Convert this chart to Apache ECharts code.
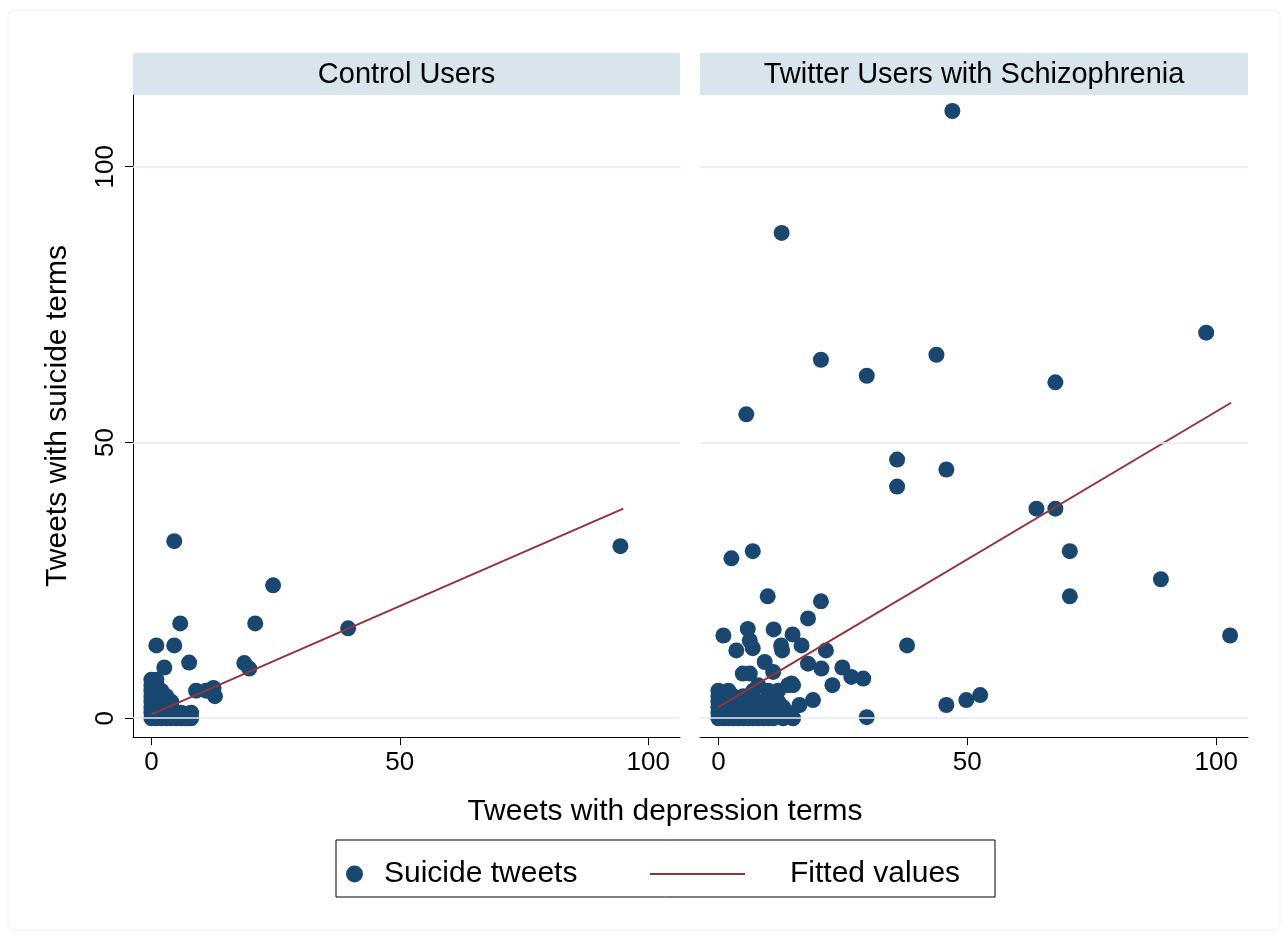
<!DOCTYPE html>
<html><head><meta charset="utf-8">
<script src="https://cdn.jsdelivr.net/npm/echarts@6/dist/echarts.min.js"></script>
<style>html,body{margin:0;padding:0;background:#fff}#c{width:1288px;height:938px}</style>
</head><body><div id="c"></div>
<script>
const panelTitles = ['Control Users', 'Twitter Users with Schizophrenia'];
const xTicks = [0, 50, 100];
const yTicks = [0, 50, 100];
const xTitle = 'Tweets with depression terms';
const yTitle = 'Tweets with suicide terms';
const legendNames = ['Suicide tweets', 'Fitted values'];

// Control users: [depression tweets, suicide tweets]
const controlPoints = [
  [4.6,32.1],[94.4,31.2],[24.5,24.1],[20.9,17.2],[39.6,16.3],[5.8,17.2],[1,13.2],[4.6,13.2],
  [18.7,10],[19.7,9],[7.6,10.1],[2.6,9.2],[9,5],[11,5],[12.5,5.5],[12.8,4],[7.4,0.8],[7.4,0],
  [0,0],[0,1],[0,2],[0,3],[0,4],[0,5],[0,6],[0,7],[1,0],[1,1],[1,2],[1,3],[1,4],[1,5],[1,6],[1,7],
  [2,0],[2,1],[2,2],[2,3],[2,4],[2,5],[3,0],[3,1],[3,2],[3,3],[3,4],[4,0],[4,1],[4,2],[4,3],
  [5,0],[5,1],[6,0],[6,1],[7,0],[8,0],[8,1]
];
// Users with schizophrenia
const schizPoints = [
  [47,110.1],[12.7,88],[98,69.9],[43.8,65.9],[20.6,65],[29.8,62.1],[67.7,60.9],[5.6,55.1],
  [35.9,46.9],[45.8,45.1],[35.9,42],[63.9,38],[67.7,38],[70.6,30.3],[6.9,30.3],[2.6,29],
  [88.9,25.2],[70.6,22.1],[9.9,22.1],[20.6,21.2],[102.8,15],[37.9,13.2],[45.8,2.4],[49.8,3.3],
  [52.6,4.2],[29.8,0.2],
  [18,18.1],[1,15],[5.9,16.2],[11.1,16.1],[14.9,15.2],[6.3,14.1],[6.9,12.7],[3.6,12.3],
  [12.6,13.2],[12.8,12.3],[16.7,13.2],[21.6,12.3],[9.3,10.2],[18,9.9],[20.7,9],[24.9,9.2],
  [26.7,7.5],[29.1,7.2],[4.9,8.1],[6.3,8.1],[11,8.4],[22.9,6],[19,3.3],[16.3,2.4],[14.3,0.2],
  [8.9,0.2],[14.7,6.3],
  [0,0],[0,1],[0,2],[0,3],[0,4],[0,5],[1,0],[1,1],[1,2],[1,3],[1,4],[2,0],[2,1],[2,2],[2,3],[2,5],
  [3,0],[3,1],[3,2],[3,3],[3,4],[4,0],[4,1],[4,2],[4,3],[5,0],[5,1],[5,2],[5,4],[6,0],[6,1],[6,2],
  [6,3],[7,0],[7,1],[7,2],[7,5],[8,0],[8,1],[8,3],[9,0],[9,1],[9,2],[10,0],[10,1],[10,3],[11,0],
  [11,1],[11,2],[12,1],[12,3],[13,0],[13,2],[14,1],[14,6],[15,0],[15,6],[10,5],[12,5],[8,6]
];
// Fitted regression lines (end points)
const controlFit = [[0,0.7],[95,38.0]];
const schizFit = [[0,2.0],[103,57.2]];

const NAVY = '#1a476f', MAROON = '#90353b', FONT = 'Liberation Sans, Arial, Helvetica, sans-serif';
const chart = echarts.init(document.getElementById('c'));

function xAxisDef(i) {
  return {
    type: 'value', gridIndex: i, min: -3.7, max: 106.4,
    axisLine: { show: true, onZero: false, lineStyle: { color: '#000', width: 1 } },
    axisTick: { show: true, length: 8, customValues: xTicks, lineStyle: { color: '#000' } },
    axisLabel: { show: true, customValues: xTicks, fontSize: 26, color: '#000', margin: 13, fontFamily: FONT },
    splitLine: { show: false }
  };
}
function yAxisDef(i) {
  const base = { type: 'value', gridIndex: i, min: -3.4, max: 113, splitLine: { show: false } };
  if (i === 0) {
    return Object.assign(base, {
      axisLine: { show: true, onZero: false, lineStyle: { color: '#000', width: 1 } },
      axisTick: { show: true, length: 8, customValues: yTicks, lineStyle: { color: '#000' } },
      axisLabel: { show: true, customValues: yTicks, rotate: 90, fontSize: 26, color: '#000', margin: 14, fontFamily: FONT },
      name: yTitle, nameLocation: 'middle', nameGap: 60,
      nameTextStyle: { fontSize: 30, color: '#000', fontFamily: FONT }
    });
  }
  return Object.assign(base, { axisLine: { show: false, onZero: false }, axisTick: { show: false }, axisLabel: { show: false } });
}
function gridSeries(i) {
  return {
    type: 'line', xAxisIndex: i, yAxisIndex: i, data: [], z: 1, silent: true,
    markLine: {
      silent: true, symbol: 'none', label: { show: false }, animation: false,
      lineStyle: { color: '#e3edf0', type: 'solid', width: 1.5 },
      data: yTicks.map(v => ({ yAxis: v }))
    }
  };
}
function scatterSeries(i, pts) {
  return { type: 'scatter', name: legendNames[0], xAxisIndex: i, yAxisIndex: i, data: pts,
    symbolSize: 16, itemStyle: { color: NAVY, opacity: 1 }, z: 3, animation: false };
}
function fitSeries(i, pts) {
  return { type: 'line', name: legendNames[1], xAxisIndex: i, yAxisIndex: i, data: pts,
    symbol: 'none', showSymbol: false, lineStyle: { color: MAROON, width: 2 }, itemStyle: { color: MAROON }, z: 4, animation: false };
}

const strips = [[133, 547], [700, 548]];
const graphics = [
  { type: 'rect', shape: { x: 8, y: 10, width: 1272, height: 920, r: 6 }, style: { fill: 'none', stroke: '#eef2f4', lineWidth: 1 }, z: -1 },
  { type: 'rect', shape: { x: 336, y: 840, width: 659, height: 57 }, style: { fill: 'none', stroke: '#000', lineWidth: 1 } },
  { type: 'text', x: 665, y: 812, style: { text: xTitle, fill: '#000', font: '30px ' + FONT, align: 'center', verticalAlign: 'middle' } }
];
strips.forEach((s, i) => {
  graphics.push({ type: 'rect', shape: { x: s[0], y: 53, width: s[1], height: 42 }, style: { fill: '#d9e5ec' } });
  graphics.push({ type: 'text', x: s[0] + s[1] / 2, y: 75, style: { text: panelTitles[i], fill: '#000', font: '29px ' + FONT, align: 'center', verticalAlign: 'middle' }, z: 10 });
});

chart.setOption({
  backgroundColor: '#fff',
  animation: false,
  grid: [
    { left: 133, top: 95, width: 547, height: 642 },
    { left: 700, top: 95, width: 548, height: 642 }
  ],
  xAxis: [xAxisDef(0), xAxisDef(1)],
  yAxis: [yAxisDef(0), yAxisDef(1)],
  legend: [
    { data: [{ name: legendNames[0], icon: 'circle' }], left: 346, top: 859, padding: 0, itemWidth: 17, itemHeight: 17,
      selectedMode: false, textStyle: { fontSize: 30, color: '#000', fontFamily: FONT, padding: [0, 0, 0, 16] } },
    { data: [{ name: legendNames[1], icon: 'rect', itemStyle: { color: MAROON } }], left: 650, top: 859, padding: 0, itemWidth: 95, itemHeight: 2,
      selectedMode: false, textStyle: { fontSize: 30, color: '#000', fontFamily: FONT, padding: [0, 0, 0, 40] } }
  ],
  graphic: graphics,
  series: [
    gridSeries(0), gridSeries(1),
    scatterSeries(0, controlPoints), scatterSeries(1, schizPoints),
    fitSeries(0, controlFit), fitSeries(1, schizFit)
  ]
});
</script></body></html>
